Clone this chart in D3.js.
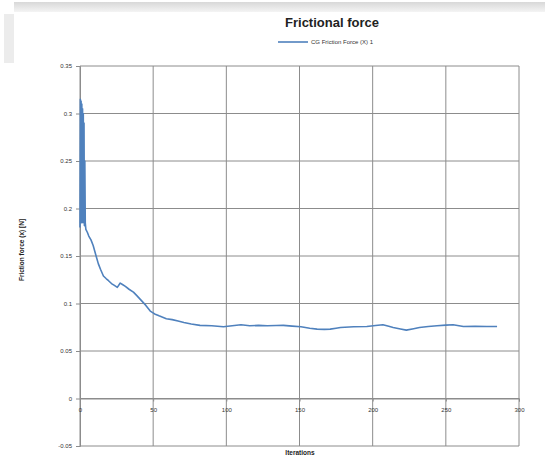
<!DOCTYPE html>
<html>
<head>
<meta charset="utf-8">
<script src="https://cdn.jsdelivr.net/npm/d3@7"></script>
<style>
  body { margin: 0; background: #fff; }
  svg { display: block; font-family: "Liberation Sans", Arial, sans-serif; }
</style>
</head>
<body>
<svg width="545" height="463"></svg>
<script>
const iterations = [0, 0.25, 0.5, 0.75, 1, 1.25, 1.5, 1.75, 2, 2.25, 2.5, 2.75, 3, 3.3, 3.6, 4, 5, 6, 7.5, 9, 11, 12.5, 14, 16, 18, 19.5, 21.5, 23.5, 25.5, 27.5, 29, 31, 33.5, 36.5, 39, 42, 45, 48, 51, 54, 59, 63, 67, 71, 76, 82, 90, 98, 104, 110, 116, 122, 128, 134, 139, 145, 151, 157, 162, 167, 171, 175, 178, 187, 196, 202, 207, 211, 214, 219, 223, 228, 232, 238, 244, 250, 255, 262, 270, 278, 285];
const force = [0.18, 0.315, 0.19, 0.313, 0.185, 0.31, 0.19, 0.305, 0.185, 0.3, 0.19, 0.29, 0.182, 0.25, 0.185, 0.178, 0.175, 0.171, 0.167, 0.161, 0.15, 0.142, 0.136, 0.129, 0.126, 0.124, 0.121, 0.119, 0.117, 0.1215, 0.12, 0.118, 0.115, 0.112, 0.108, 0.103, 0.098, 0.092, 0.089, 0.087, 0.084, 0.083, 0.0815, 0.080, 0.0785, 0.077, 0.0765, 0.0755, 0.0765, 0.0776, 0.0765, 0.077, 0.0765, 0.0768, 0.077, 0.0762, 0.0755, 0.074, 0.073, 0.0728, 0.073, 0.074, 0.0748, 0.0755, 0.0758, 0.0768, 0.0776, 0.076, 0.0748, 0.0732, 0.072, 0.0735, 0.0748, 0.0758, 0.0765, 0.0772, 0.0776, 0.0758, 0.076, 0.0758, 0.0758];
const yTicks = [-0.05, 0, 0.05, 0.1, 0.15, 0.2, 0.25, 0.3, 0.35];
const yTickLabels = ["-0.05", "0", "0.05", "0.1", "0.15", "0.2", "0.25", "0.3", "0.35"];
const xTicks = [0, 50, 100, 150, 200, 250, 300];
const seriesName = "CG Friction Force (X) 1";

const svg = d3.select("svg");
const margin = { left: 80, right: 26, top: 66, bottom: 17 };
const width = 545, height = 463;

const x = d3.scaleLinear().domain([0, 300]).range([margin.left, width - margin.right]);
const y = d3.scaleLinear().domain([-0.05, 0.35]).range([height - margin.bottom, margin.top]);

// window chrome remnants
const grad = svg.append("defs").append("linearGradient")
    .attr("id", "bar").attr("x1", 0).attr("x2", 0).attr("y1", 0).attr("y2", 1);
grad.append("stop").attr("offset", 0).attr("stop-color", "#d8d8d8");
grad.append("stop").attr("offset", 1).attr("stop-color", "#f4f4f4");
svg.append("rect").attr("x", 14).attr("y", 2).attr("width", 531).attr("height", 10).attr("fill", "url(#bar)");
svg.append("rect").attr("x", 4).attr("y", 14).attr("width", 10).attr("height", 49).attr("fill", "#ececec");

// grid
svg.append("g")
  .selectAll("line")
  .data(yTicks)
  .join("line")
    .attr("x1", x(0)).attr("x2", x(300))
    .attr("y1", d => y(d)).attr("y2", d => y(d))
    .attr("stroke", "#8c8c8c").attr("stroke-width", 1);

svg.append("g")
  .selectAll("line")
  .data(xTicks)
  .join("line")
    .attr("x1", d => x(d)).attr("x2", d => x(d))
    .attr("y1", y(0.35)).attr("y2", y(-0.05))
    .attr("stroke", "#8c8c8c").attr("stroke-width", 1);

// y axis
const yAxis = svg.append("g")
    .attr("transform", `translate(${x(0)},0)`)
    .call(d3.axisLeft(y).tickValues(yTicks).tickSize(4).tickFormat((d, i) => yTickLabels[i]));
yAxis.select(".domain").attr("stroke", "#8c8c8c");
yAxis.selectAll(".tick line").attr("stroke", "#8c8c8c");
yAxis.selectAll(".tick text").attr("font-size", 6).attr("fill", "#333").attr("x", -8);

// x axis at y = 0
const xAxis = svg.append("g")
    .attr("transform", `translate(0,${y(0)})`)
    .call(d3.axisBottom(x).tickValues(xTicks).tickSize(3));
xAxis.select(".domain").attr("stroke", "#8c8c8c");
xAxis.selectAll(".tick line").attr("stroke", "#8c8c8c");
xAxis.selectAll(".tick text").attr("font-size", 6).attr("fill", "#333").attr("y", 9);

// series
const pts = iterations.map((d, i) => [d, force[i]]);
svg.append("path")
    .datum(pts)
    .attr("fill", "none")
    .attr("stroke", "#4f81bd")
    .attr("stroke-width", 1.6)
    .attr("stroke-linejoin", "round")
    .attr("d", d3.line().x(d => x(d[0])).y(d => y(d[1])));

// titles
svg.append("text")
    .attr("x", 332).attr("y", 27)
    .attr("text-anchor", "middle")
    .attr("font-size", 13).attr("font-weight", "bold").attr("fill", "#222")
    .text("Frictional force");

svg.append("text")
    .attr("transform", `translate(24,250) rotate(-90)`)
    .attr("text-anchor", "middle")
    .attr("font-size", 6.5).attr("font-weight", "bold").attr("fill", "#222")
    .text("Friction force (x) [N]");

svg.append("text")
    .attr("x", 300).attr("y", 455)
    .attr("text-anchor", "middle")
    .attr("font-size", 6.5).attr("font-weight", "bold").attr("fill", "#222")
    .text("Iterations");

// legend
const legend = svg.append("g").attr("transform", "translate(278,42)");
legend.append("line").attr("x1", 0).attr("x2", 30).attr("y1", 0).attr("y2", 0)
    .attr("stroke", "#4f81bd").attr("stroke-width", 1.6);
legend.append("text").attr("x", 33).attr("y", 2)
    .attr("font-size", 6).attr("fill", "#333")
    .text(seriesName);
</script>
</body>
</html>
